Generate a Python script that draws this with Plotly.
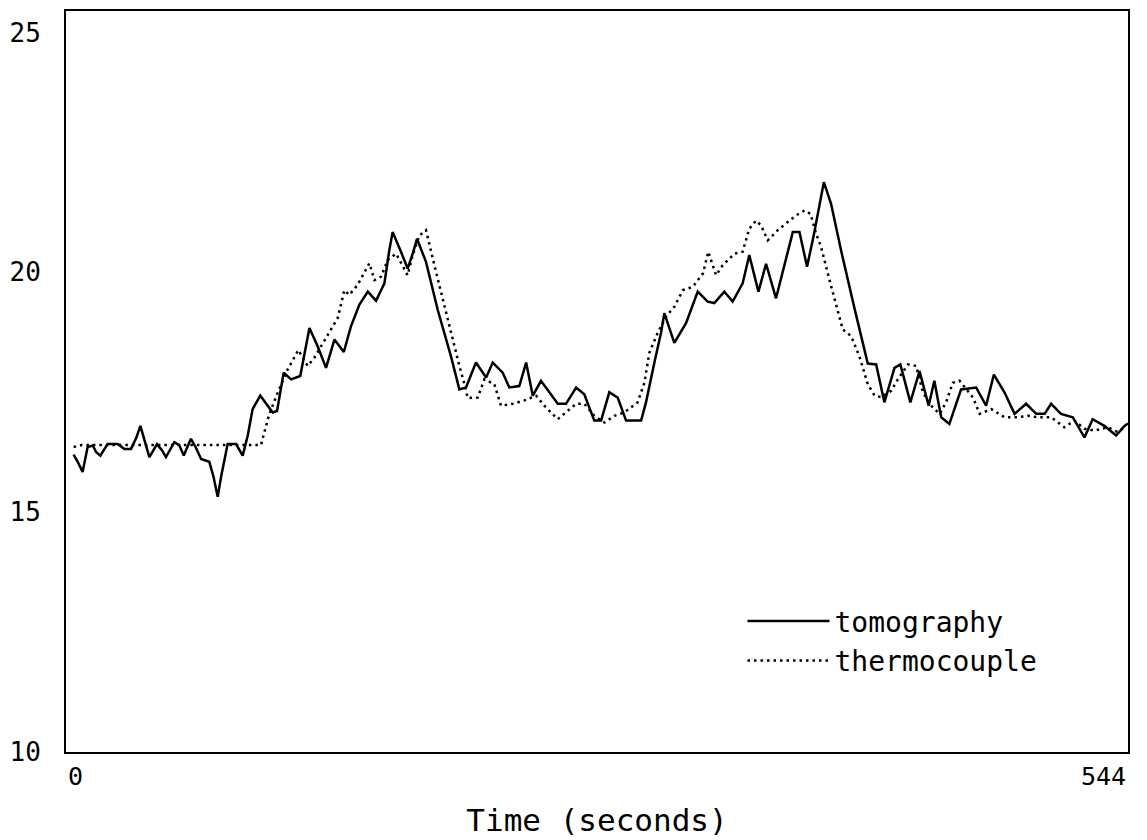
import plotly.graph_objects as go

# Tomography (solid) readings: time (s), temperature
tomo_t = [3.9, 6.0, 8.5, 11.1, 13.7, 15.5, 17.6, 21.3, 26.5, 29.9, 33.3, 36.0, 38.1, 40.0,
          42.7, 46.6, 49.0, 51.2, 55.5, 58.0, 60.3, 64.0, 66.5, 69.2, 73.4, 75.5, 77.7,
          79.5, 81.1, 82.8, 87.1, 90.5, 93.1, 95.6, 99.5, 105.9, 108.1, 111.5, 115.3,
          120.0, 124.7, 128.9, 133.2, 137.5, 142.3, 146.0, 150.3, 154.6, 158.8, 163.1,
          165.6, 167.3, 171.6, 175.0, 177.6, 179.8, 184.4, 190.4, 197.2, 201.5, 204.9,
          210.0, 215.2, 218.6, 223.7, 227.1, 232.2, 235.7, 239.1, 243.3, 247.6, 251.9,
          256.1, 261.3, 265.5, 270.6, 274.1, 278.3, 282.6, 286.9, 294.6, 297.1, 301.4,
          304.8, 306.5, 311.6, 317.6, 323.6, 328.7, 332.1, 337.2, 341.5, 346.6, 350.0,
          354.7, 358.6, 363.7, 368.0, 372.3, 375.7, 379.6, 383.0, 388.2, 391.9, 397.0,
          403.9, 410.7, 415.0, 419.2, 424.4, 427.4, 432.5, 437.2, 441.9, 444.8, 448.3,
          452.5, 458.5, 466.2, 471.3, 475.3, 480.7, 485.9, 491.8, 497.0, 501.3, 504.6,
          509.7, 515.7, 521.7, 525.9, 531.9, 537.9, 542.2, 544.0]
tomo_v = [16.20, 16.05, 15.84, 16.36, 16.39, 16.25, 16.18, 16.42, 16.42, 16.32, 16.32, 16.55,
          16.80, 16.55, 16.15, 16.42, 16.30, 16.15, 16.46, 16.40, 16.18, 16.53, 16.35, 16.11,
          16.05, 15.75, 15.32, 15.75, 16.05, 16.42, 16.42, 16.18, 16.60, 17.15, 17.43, 17.08,
          17.11, 17.91, 17.77, 17.84, 18.84, 18.46, 18.01, 18.60, 18.34, 18.88, 19.33, 19.60,
          19.41, 19.77, 20.46, 20.84, 20.43, 20.08, 20.39, 20.70, 20.22, 19.22, 18.25, 17.56,
          17.60, 18.12, 17.81, 18.12, 17.91, 17.60, 17.63, 18.12, 17.43, 17.74, 17.50, 17.26,
          17.26, 17.60, 17.46, 16.91, 16.91, 17.50, 17.39, 16.91, 16.91, 17.29, 18.12, 18.74,
          19.15, 18.53, 18.94, 19.60, 19.39, 19.36, 19.60, 19.39, 19.77, 20.36, 19.60, 20.18,
          19.46, 20.12, 20.84, 20.84, 20.12, 20.77, 21.88, 21.43, 20.46, 19.25, 18.10, 18.08,
          17.29, 18.01, 18.08, 17.29, 17.94, 17.22, 17.74, 16.98, 16.84, 17.56, 17.60, 17.22,
          17.87, 17.50, 17.05, 17.26, 17.05, 17.05, 17.26, 17.05, 16.98, 16.56, 16.94, 16.80,
          16.60, 16.80, 16.85]

# Thermocouple (dotted) readings
thermo_t = [3.9, 8.0, 30.0, 60.0, 99.9, 101.6, 104.2, 108.5, 113.6, 119.0, 123.8, 127.2,
            132.3, 135.8, 139.2, 142.6, 145.1, 149.4, 152.8, 155.4, 158.0, 161.4, 164.8,
            169.1, 175.0, 177.6, 181.0, 184.4, 188.7, 193.0, 197.2, 201.5, 204.1, 205.8,
            210.9, 214.3, 219.4, 222.8, 228.8, 234.8, 240.8, 245.0, 251.9, 257.0, 261.3,
            265.5, 270.6, 275.8, 280.9, 286.0, 292.8, 296.3, 298.8, 303.1, 307.4, 311.7,
            316.0, 321.1, 326.3, 329.0, 333.0, 336.4, 342.4, 346.6, 350.0, 353.5, 356.0,
            359.5, 364.6, 369.7, 374.0, 378.3, 381.4, 384.2, 386.8, 391.1, 395.4, 397.9,
            402.2, 406.4, 410.7, 414.2, 417.6, 422.7, 426.1, 431.3, 435.5, 438.9, 443.2,
            447.5, 450.8, 454.3, 457.7, 461.1, 464.6, 468.0, 474.0, 480.7, 487.6, 492.7,
            497.8, 504.6, 511.4, 516.5, 521.7, 526.8, 533.6, 538.8, 542.2]
thermo_v = [16.36, 16.40, 16.40, 16.40, 16.40, 16.67, 17.05, 17.50, 17.98, 18.38, 18.05, 18.22,
            18.57, 18.81, 19.05, 19.63, 19.53, 19.74, 20.01, 20.19, 19.84, 19.91, 20.26,
            20.39, 19.94, 20.36, 20.77, 20.88, 20.15, 19.43, 18.74, 18.05, 17.67, 17.38,
            17.39, 17.77, 17.67, 17.22, 17.26, 17.33, 17.43, 17.22, 16.94, 17.11, 17.26,
            17.26, 17.01, 16.87, 17.01, 17.08, 17.29, 17.70, 18.32, 18.74, 19.08, 19.29,
            19.63, 19.70, 19.98, 20.43, 19.94, 20.15, 20.39, 20.43, 20.91, 21.08, 20.98,
            20.67, 20.88, 21.05, 21.19, 21.29, 21.22, 20.81, 20.53, 19.84, 19.15, 18.81,
            18.67, 18.25, 17.67, 17.43, 17.40, 17.53, 17.77, 18.08, 18.05, 17.50, 17.22,
            17.05, 17.29, 17.70, 17.74, 17.56, 17.39, 17.05, 17.15, 16.98, 16.98, 17.01,
            16.98, 16.98, 16.77, 16.91, 16.74, 16.70, 16.77, 16.67, 16.77]

series_names = ["tomography", "thermocouple"]
x_tick_vals = [0, 544]
x_tick_text = ["0", "544"]
y_tick_vals = [10, 15, 20, 25]
y_tick_text = ["10", "15", "20", "25"]
x_title = "Time (seconds)"

FONT = "DejaVu Sans Mono"

fig = go.Figure()
fig.add_trace(go.Scatter(x=tomo_t, y=tomo_v, mode="lines", name=series_names[0],
                         line=dict(color="black", width=2.5)))
fig.add_trace(go.Scatter(x=thermo_t, y=thermo_v, mode="lines", name=series_names[1],
                         line=dict(color="black", width=2.5, dash="2.5px,4px")))

for v, t, anc in zip(x_tick_vals, x_tick_text, ["left", "right"]):
    fig.add_annotation(x=v, y=0, xref="x", yref="paper", text=t, showarrow=False,
                       xanchor=anc, yanchor="top", yshift=-8,
                       font=dict(family=FONT, size=25, color="black"))

fig.update_layout(
    width=1139, height=832,
    margin=dict(l=56, r=19, t=1, b=88),
    paper_bgcolor="white", plot_bgcolor="white",
    showlegend=True,
    legend=dict(x=0.637, y=0.21, xanchor="left", yanchor="top",
                bgcolor="rgba(0,0,0,0)", borderwidth=0, itemwidth=82,
                font=dict(family=FONT, size=28, color="black"), tracegroupgap=0),
    font=dict(family=FONT, color="black"),
)
fig.update_xaxes(range=[0, 544], showgrid=False, zeroline=False, showline=True,
                 linecolor="black", linewidth=2, mirror=True, showticklabels=False,
                 tickvals=x_tick_vals, ticks="",
                 title=dict(text=x_title, font=dict(family=FONT, size=31, color="black"),
                            standoff=56))
fig.update_yaxes(range=[10, 25.45], showgrid=False, zeroline=False, showline=True,
                 linecolor="black", linewidth=2, mirror=True,
                 tickvals=y_tick_vals, ticktext=y_tick_text, ticks="",
                 ticklabelstandoff=18,
                 tickfont=dict(family=FONT, size=26, color="black"))

fig.write_html("out.html")
